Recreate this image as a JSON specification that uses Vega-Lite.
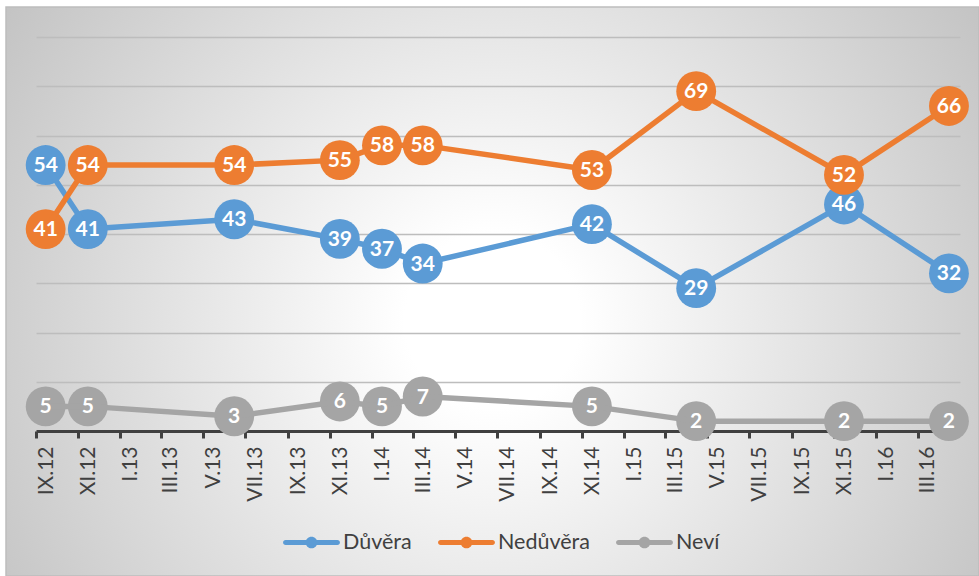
{
  "$schema": "https://vega.github.io/schema/vega-lite/v6.json",
  "width": 973,
  "height": 569,
  "autosize": {"type": "none"},
  "padding": {"left": 6, "top": 7, "right": 0, "bottom": 0},
  "background": "#ffffff",
  "data": {
    "values": [
      {"date": "2012-09-15", "series": "Důvěra", "value": 54},
      {"date": "2012-11-15", "series": "Důvěra", "value": 41},
      {"date": "2013-06-15", "series": "Důvěra", "value": 43},
      {"date": "2013-11-15", "series": "Důvěra", "value": 39},
      {"date": "2014-01-15", "series": "Důvěra", "value": 37},
      {"date": "2014-03-15", "series": "Důvěra", "value": 34},
      {"date": "2014-11-15", "series": "Důvěra", "value": 42},
      {"date": "2015-04-15", "series": "Důvěra", "value": 29},
      {"date": "2015-11-15", "series": "Důvěra", "value": 46},
      {"date": "2016-04-15", "series": "Důvěra", "value": 32},
      {"date": "2012-09-15", "series": "Nedůvěra", "value": 41},
      {"date": "2012-11-15", "series": "Nedůvěra", "value": 54},
      {"date": "2013-06-15", "series": "Nedůvěra", "value": 54},
      {"date": "2013-11-15", "series": "Nedůvěra", "value": 55},
      {"date": "2014-01-15", "series": "Nedůvěra", "value": 58},
      {"date": "2014-03-15", "series": "Nedůvěra", "value": 58},
      {"date": "2014-11-15", "series": "Nedůvěra", "value": 53},
      {"date": "2015-04-15", "series": "Nedůvěra", "value": 69},
      {"date": "2015-11-15", "series": "Nedůvěra", "value": 52},
      {"date": "2016-04-15", "series": "Nedůvěra", "value": 66},
      {"date": "2012-09-15", "series": "Neví", "value": 5},
      {"date": "2012-11-15", "series": "Neví", "value": 5},
      {"date": "2013-06-15", "series": "Neví", "value": 3},
      {"date": "2013-11-15", "series": "Neví", "value": 6},
      {"date": "2014-01-15", "series": "Neví", "value": 5},
      {"date": "2014-03-15", "series": "Neví", "value": 7},
      {"date": "2014-11-15", "series": "Neví", "value": 5},
      {"date": "2015-04-15", "series": "Neví", "value": 2},
      {"date": "2015-11-15", "series": "Neví", "value": 2},
      {"date": "2016-04-15", "series": "Neví", "value": 2}
    ]
  },
  "encoding": {
    "x": {
      "field": "date",
      "type": "temporal",
      "scale": {
        "type": "utc",
        "domain": [
          {"year": 2012, "month": 9, "date": 1, "utc": true},
          {"year": 2016, "month": 5, "date": 1, "utc": true}
        ],
        "range": [30, 954]
      },
      "axis": {
        "title": null,
        "orient": "bottom",
        "offset": -145,
        "grid": false,
        "values": [
          {"year": 2012, "month": 9, "date": 1, "utc": true},
          {"year": 2012, "month": 11, "date": 1, "utc": true},
          {"year": 2013, "month": 1, "date": 1, "utc": true},
          {"year": 2013, "month": 3, "date": 1, "utc": true},
          {"year": 2013, "month": 5, "date": 1, "utc": true},
          {"year": 2013, "month": 7, "date": 1, "utc": true},
          {"year": 2013, "month": 9, "date": 1, "utc": true},
          {"year": 2013, "month": 11, "date": 1, "utc": true},
          {"year": 2014, "month": 1, "date": 1, "utc": true},
          {"year": 2014, "month": 3, "date": 1, "utc": true},
          {"year": 2014, "month": 5, "date": 1, "utc": true},
          {"year": 2014, "month": 7, "date": 1, "utc": true},
          {"year": 2014, "month": 9, "date": 1, "utc": true},
          {"year": 2014, "month": 11, "date": 1, "utc": true},
          {"year": 2015, "month": 1, "date": 1, "utc": true},
          {"year": 2015, "month": 3, "date": 1, "utc": true},
          {"year": 2015, "month": 5, "date": 1, "utc": true},
          {"year": 2015, "month": 7, "date": 1, "utc": true},
          {"year": 2015, "month": 9, "date": 1, "utc": true},
          {"year": 2015, "month": 11, "date": 1, "utc": true},
          {"year": 2016, "month": 1, "date": 1, "utc": true},
          {"year": 2016, "month": 3, "date": 1, "utc": true}
        ],
        "labelExpr": "['I','II','III','IV','V','VI','VII','VIII','IX','X','XI','XII'][utcmonth(datum.value)] + '.' + utcFormat(datum.value, '%y')",
        "labelAngle": -90,
        "labelAlign": "right",
        "labelBaseline": "middle",
        "labelOffset": 10,
        "labelPadding": 8,
        "labelFlush": false,
        "labelOverlap": false,
        "labelBound": false,
        "labelFont": "Lato",
        "labelFontSize": 21,
        "labelColor": "#404040",
        "domainColor": "#404040",
        "domainWidth": 3,
        "tickColor": "#404040",
        "tickWidth": 3,
        "tickSize": 7
      }
    },
    "y": {
      "field": "value",
      "type": "quantitative",
      "scale": {"domain": [0, 80], "range": [424, 30], "nice": false, "zero": true},
      "axis": {
        "title": null,
        "domain": false,
        "ticks": false,
        "labels": false,
        "grid": true,
        "values": [10, 20, 30, 40, 50, 60, 70, 80],
        "gridColor": "#bdbdbd",
        "gridWidth": 1.3
      }
    }
  },
  "layer": [
    {
      "mark": {"type": "circle", "size": 1590, "opacity": 1},
      "encoding": {
        "color": {
          "field": "series",
          "type": "nominal",
          "scale": {"domain": ["Důvěra", "Nedůvěra", "Neví"], "range": ["#5B9BD5", "#ED7D31", "#A5A5A5"]},
          "legend": {
            "title": null,
            "orient": "none",
            "direction": "horizontal",
            "legendX": 277,
            "legendY": 507,
            "padding": 0,
            "symbolType": "M-0.91,-0.088H0.91A0.088,0.088 0 0 1 0.91,0.088H-0.91A0.088,0.088 0 0 1 -0.91,-0.088Z M0.205,0A0.205,0.205 0 1 1 -0.205,0A0.205,0.205 0 1 1 0.205,0Z",
            "symbolSize": 3249,
            "symbolStrokeWidth": 0,
            "symbolOpacity": 1,
            "labelFont": "Lato",
            "labelFontSize": 21.5,
            "labelColor": "#404040",
            "labelOffset": 3,
            "columnPadding": 26
          }
        }
      }
    },
    {
      "mark": {"type": "line", "strokeWidth": 5.5, "strokeCap": "round", "strokeJoin": "round"},
      "encoding": {
        "color": {
          "field": "series",
          "type": "nominal",
          "scale": {"domain": ["Důvěra", "Nedůvěra", "Neví"], "range": ["#5B9BD5", "#ED7D31", "#A5A5A5"]},
          "legend": null
        }
      }
    },
    {
      "mark": {"type": "text", "font": "Lato", "fontSize": 21, "fontWeight": "bold", "align": "center", "baseline": "middle", "dy": 1},
      "encoding": {
        "text": {"field": "value", "type": "quantitative"},
        "color": {"value": "#ffffff"}
      }
    }
  ],
  "config": {
    "view": {
      "fill": {
        "gradient": "radial",
        "x1": 0.5, "y1": 0.53, "r1": 0,
        "x2": 0.5, "y2": 0.53, "r2": 0.6,
        "stops": [
          {"offset": 0, "color": "#ffffff"},
          {"offset": 0.15, "color": "#ffffff"},
          {"offset": 1, "color": "#c3c3c3"}
        ]
      },
      "stroke": "#bdbdbd",
      "strokeWidth": 1.5
    }
  }
}
